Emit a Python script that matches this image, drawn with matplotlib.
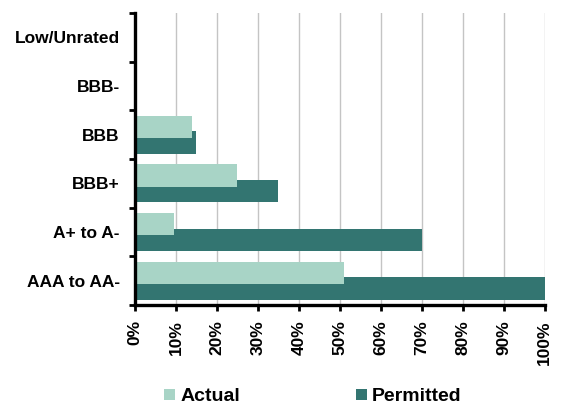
import matplotlib.pyplot as plt
from matplotlib.ticker import FixedLocator, PercentFormatter

plt.rcParams["font.family"] = ["Liberation Sans", "DejaVu Sans"]
plt.rcParams["font.weight"] = "bold"

# ratings, bottom to top
categories = ["AAA to AA-", "A+ to A-", "BBB+", "BBB", "BBB-", "Low/Unrated"]
actual = [51, 9.5, 25, 14, 0, 0]
permitted = [100, 70, 35, 15, 0, 0]
x_ticks = list(range(0, 101, 10))

light = "#a8d4c6"
dark = "#337571"

fig = plt.figure(figsize=(5.61, 4.08), dpi=100)
ax = fig.add_axes([0.2406, 0.2525, 0.7300, 0.7155])

pos = list(range(len(categories)))
h = 0.46
off = 0.16
ax.barh([p - off for p in pos], permitted, height=h, color=dark,
        linewidth=0, zorder=2, label="Permitted")
ax.barh([p + off for p in pos], actual, height=h, color=light,
        linewidth=0, zorder=3, label="Actual")

ax.set_xlim(0, 100)
ax.set_ylim(-0.5, len(categories) - 0.5)
ax.set_xticks(x_ticks)
ax.xaxis.set_major_formatter(PercentFormatter(decimals=0))
ax.tick_params(axis="x", direction="out", length=4, width=2, pad=7,
               labelsize=12.5, labelrotation=90)
ax.grid(axis="x", color="#c4c4c4", linewidth=1, zorder=0)
ax.set_axisbelow(True)

ax.set_yticks(pos)
ax.set_yticklabels(categories)
ax.tick_params(axis="y", which="major", length=0, pad=11, labelsize=12.5)
ax.yaxis.set_minor_locator(FixedLocator([p - 0.5 for p in range(len(categories) + 1)]))
ax.tick_params(axis="y", which="minor", direction="out", length=4, width=2)

for s in ["top", "right"]:
    ax.spines[s].set_visible(False)
for s in ["left", "bottom"]:
    ax.spines[s].set_linewidth(2.4)
    ax.spines[s].set_color("black")
    ax.spines[s].set_zorder(5)

handles, labels = ax.get_legend_handles_labels()
fig.legend(handles[::-1], labels[::-1], loc="center", ncol=2,
           bbox_to_anchor=(0.558, 0.027), frameon=False,
           prop={"size": 14, "weight": "bold"},
           handlelength=0.55, handleheight=0.55, handletextpad=0.25,
           columnspacing=6.0)

fig.savefig("out.png", dpi=100)
